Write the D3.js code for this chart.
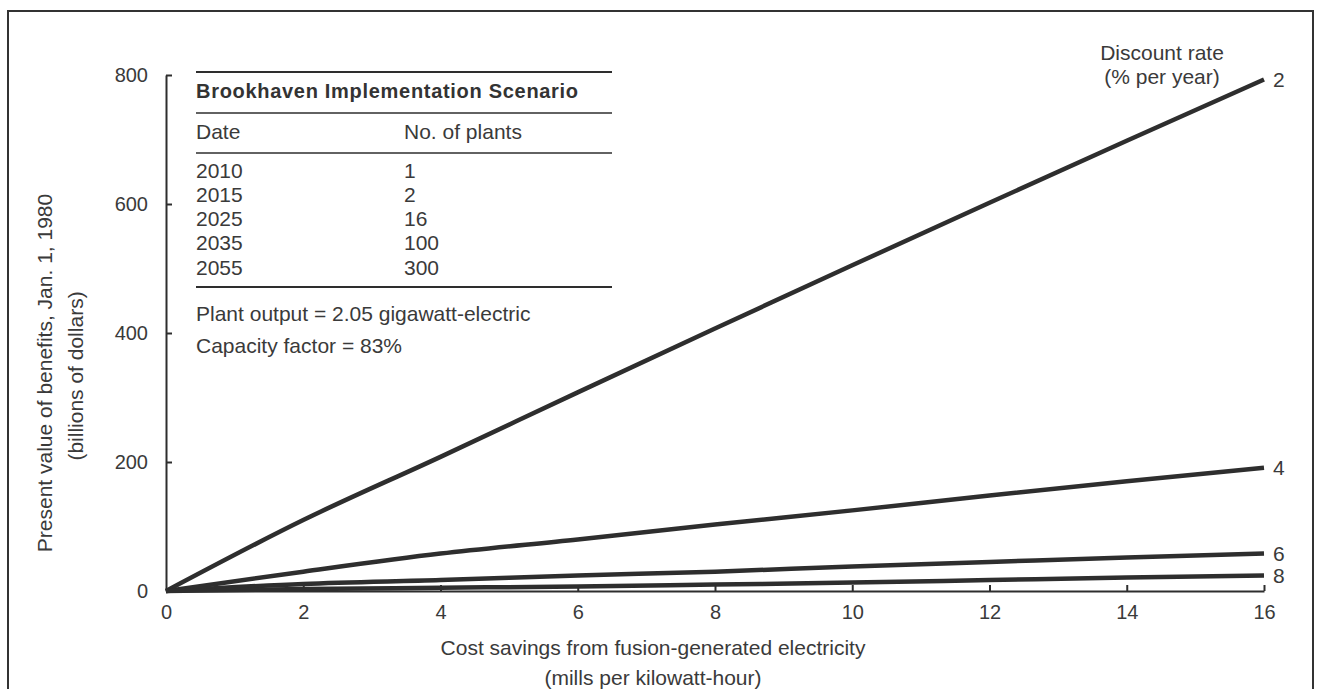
<!DOCTYPE html>
<html>
<head>
<meta charset="utf-8">
<script src="https://cdn.jsdelivr.net/npm/d3@7"></script>
<style>
  html, body { margin: 0; padding: 0; background: #fff; }
  svg { display: block; font-family: "Liberation Sans", Arial, sans-serif; }
</style>
</head>
<body>
<svg id="chart" width="1321" height="689"></svg>
<script>
// ---- data ----
const savings = [0, 2, 4, 6, 8, 10, 12, 14, 16];
const rateLabels = ["2", "4", "6", "8"];
const pv2 = [0, 110, 208, 308, 407, 505, 602, 698, 793];
const pv4 = [0, 30, 58, 80, 103, 125, 148, 170, 191];
const pv6 = [0, 11, 17, 24, 30, 38, 45, 52, 58];
const pv8 = [0, 3, 5, 7, 10, 13, 17, 21, 24];
const xTickValues = [0, 2, 4, 6, 8, 10, 12, 14, 16];
const yTickValues = [0, 200, 400, 600, 800];
const tableDates = ["2010", "2015", "2025", "2035", "2055"];
const tablePlants = ["1", "2", "16", "100", "300"];

const series = [pv2, pv4, pv6, pv8].map((vals, i) => ({
  rate: rateLabels[i],
  points: savings.map((s, j) => ({ x: s, y: vals[j] }))
}));

const svg = d3.select("#chart");
const ink = "#2e2e2e";
const textInk = "#3a3a3a";
const fs = 21;

// outer frame
svg.append("rect")
  .attr("x", 8).attr("y", 11).attr("width", 1305).attr("height", 720)
  .attr("fill", "none").attr("stroke", "#333").attr("stroke-width", 2);

const x = d3.scaleLinear().domain([0, 16]).range([166, 1264]);
const y = d3.scaleLinear().domain([0, 800]).range([591, 75]);

// axes
const yAxis = d3.axisLeft(y).tickValues(yTickValues).tickSizeInner(-6).tickSizeOuter(0).tickPadding(18);
const xAxis = d3.axisBottom(x).tickValues(xTickValues).tickSizeInner(-6).tickSizeOuter(0).tickPadding(14);

const gy = svg.append("g").attr("transform", `translate(${x(0)},0)`).call(yAxis);
const gx = svg.append("g").attr("transform", `translate(0,${y(0)})`).call(xAxis);
[gy, gx].forEach(g => {
  g.select(".domain").attr("stroke", ink).attr("stroke-width", 2);
  g.selectAll(".tick line").attr("stroke", ink).attr("stroke-width", 2);
  g.selectAll(".tick text").attr("fill", textInk).attr("font-size", 20)
    .attr("font-family", "Liberation Sans, Arial, sans-serif");
});
gx.selectAll(".tick").filter(d => d === 0).select("line").remove();
gy.selectAll(".tick").filter(d => d === 0).select("line").remove();

// lines
const line = d3.line().x(d => x(d.x)).y(d => y(d.y)).curve(d3.curveMonotoneX);
svg.append("g").selectAll("path").data(series).join("path")
  .attr("d", d => line(d.points))
  .attr("fill", "none").attr("stroke", ink).attr("stroke-width", 4.5)
  .attr("stroke-linejoin", "round");

// rate labels
svg.append("g").selectAll("text").data(series).join("text")
  .attr("x", d => x(16) + 9)
  .attr("y", d => y(d.points[d.points.length - 1].y))
  .attr("dy", "0.36em")
  .attr("font-size", fs).attr("fill", textInk)
  .text(d => d.rate);

// legend title
svg.append("text").attr("x", 1162).attr("y", 52).attr("dy", "0.36em")
  .attr("text-anchor", "middle").attr("font-size", fs).attr("fill", textInk)
  .text("Discount rate");
svg.append("text").attr("x", 1162).attr("y", 76).attr("dy", "0.36em")
  .attr("text-anchor", "middle").attr("font-size", fs).attr("fill", textInk)
  .text("(% per year)");

// axis titles
svg.append("text").attr("transform", "translate(44,373) rotate(-90)")
  .attr("text-anchor", "middle").attr("dy", "0.36em")
  .attr("font-size", fs).attr("fill", textInk)
  .text("Present value of benefits, Jan. 1, 1980");
svg.append("text").attr("transform", "translate(75,376) rotate(-90)")
  .attr("text-anchor", "middle").attr("dy", "0.36em")
  .attr("font-size", fs).attr("fill", textInk)
  .text("(billions of dollars)");
svg.append("text").attr("x", 653).attr("y", 647).attr("dy", "0.36em")
  .attr("text-anchor", "middle").attr("font-size", fs).attr("fill", textInk)
  .text("Cost savings from fusion-generated electricity");
svg.append("text").attr("x", 653).attr("y", 677).attr("dy", "0.36em")
  .attr("text-anchor", "middle").attr("font-size", fs).attr("fill", textInk)
  .text("(mills per kilowatt-hour)");

// inset table
const tx0 = 196, tx1 = 612, col2 = 404;
const rule = (yy, w) => svg.append("line").attr("x1", tx0).attr("x2", tx1)
  .attr("y1", yy).attr("y2", yy).attr("stroke", ink).attr("stroke-width", w);
rule(72, 2.2);
svg.append("text").attr("x", tx0).attr("y", 91).attr("dy", "0.36em")
  .attr("font-size", 20).attr("font-weight", "bold").attr("letter-spacing", 0.7)
  .attr("fill", "#333").text("Brookhaven Implementation Scenario");
rule(113, 1.5);
svg.append("text").attr("x", tx0).attr("y", 131).attr("dy", "0.36em")
  .attr("font-size", fs).attr("fill", textInk).text("Date");
svg.append("text").attr("x", col2).attr("y", 131).attr("dy", "0.36em")
  .attr("font-size", fs).attr("fill", textInk).text("No. of plants");
rule(153, 1.5);
const rowY = d3.scalePoint().domain(tableDates).range([170, 267]);
const rows = svg.append("g").selectAll("g").data(tableDates).join("g");
rows.append("text").attr("x", tx0).attr("y", d => rowY(d)).attr("dy", "0.36em")
  .attr("font-size", fs).attr("fill", textInk).text(d => d);
rows.append("text").attr("x", col2).attr("y", d => rowY(d)).attr("dy", "0.36em")
  .attr("font-size", fs).attr("fill", textInk).text((d, i) => tablePlants[i]);
rule(287, 2.2);
svg.append("text").attr("x", tx0).attr("y", 313).attr("dy", "0.36em")
  .attr("font-size", fs).attr("fill", textInk).text("Plant output  =  2.05 gigawatt-electric");
svg.append("text").attr("x", tx0).attr("y", 345).attr("dy", "0.36em")
  .attr("font-size", fs).attr("fill", textInk).text("Capacity factor  =  83%");
</script>
</body>
</html>
